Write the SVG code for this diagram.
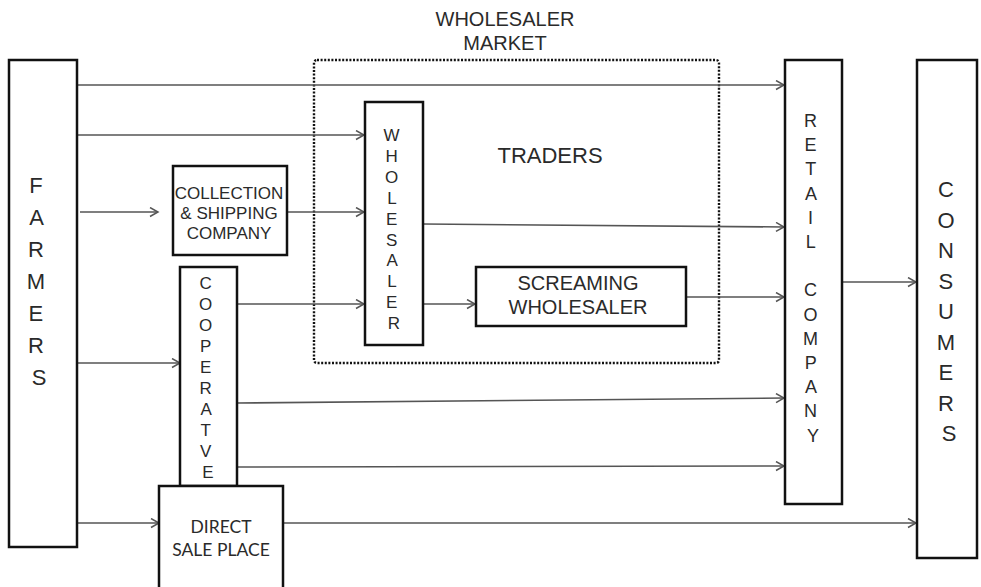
<svg xmlns="http://www.w3.org/2000/svg" width="981" height="587" viewBox="0 0 981 587">
  <defs>
    <marker id="arrow" markerUnits="userSpaceOnUse" markerWidth="12" markerHeight="12" refX="9" refY="5" orient="auto">
      <path d="M1,0.5 L9,5 L1,9.5" fill="none" stroke="#555" stroke-width="1.5"/>
    </marker>
  </defs>
  <style>
    .box { fill: #fff; stroke: #111; stroke-width: 2.5; }
    .market { fill: none; stroke: #111; stroke-width: 2.4; stroke-dasharray: 2 1.6; }
    .flow { fill: none; stroke: #555; stroke-width: 1.6; }
    .arr { marker-end: url(#arrow); }
    text { font-family: "Liberation Sans", Arial, sans-serif; fill: #2a2a2a; text-anchor: middle; }
    .big { font-size: 22px; }
    .mid { font-size: 20px; }
    .vert { font-size: 17px; }
    .small { font-size: 17px; }
    .calibri { font-family: Lato, "Liberation Sans", sans-serif; font-size: 17.5px; }
  </style>

  <!-- market boundary and its labels -->
  <g id="wholesaler-market">
    <rect class="market" x="314" y="60" width="405" height="303" rx="3"/>
    <text class="mid" x="505" y="26">WHOLESALER</text>
    <text class="mid" x="505" y="50">MARKET</text>
    <text x="550" y="163" style="font-size:22px">TRADERS</text>
  </g>

  <!-- connectors -->
  <g id="connectors">
    <line class="flow arr" x1="77" y1="85" x2="784" y2="85"/>
    <line class="flow arr" x1="77" y1="135" x2="364" y2="135"/>
    <line class="flow arr" x1="80" y1="212" x2="158" y2="212"/>
    <line class="flow arr" x1="287" y1="212" x2="364" y2="212"/>
    <line class="flow arr" x1="423" y1="224" x2="784" y2="227"/>
    <line class="flow arr" x1="237" y1="304" x2="364" y2="304"/>
    <line class="flow arr" x1="423" y1="304" x2="475" y2="304"/>
    <line class="flow arr" x1="686" y1="297" x2="784" y2="297"/>
    <line class="flow arr" x1="77" y1="363" x2="180" y2="363"/>
    <line class="flow arr" x1="237" y1="403" x2="784" y2="398"/>
    <line class="flow arr" x1="237" y1="467" x2="784" y2="466"/>
    <line class="flow arr" x1="77" y1="523" x2="159" y2="523"/>
    <line class="flow arr" x1="283" y1="523" x2="916" y2="523"/>
    <line class="flow arr" x1="842" y1="282" x2="916" y2="282"/>
  </g>

  <g id="farmers">
    <rect class="box" x="9" y="60" width="68" height="487"/>
    <text class="big">
      <tspan x="39" y="193">F</tspan>
      <tspan x="39" dy="32">A</tspan>
      <tspan x="39" dy="32">R</tspan>
      <tspan x="39" dy="32">M</tspan>
      <tspan x="39" dy="32">E</tspan>
      <tspan x="39" dy="32">R</tspan>
      <tspan x="39" dy="32">S</tspan>
    </text>
  </g>

  <g id="collection-shipping">
    <rect class="box" x="173" y="166" width="114" height="89"/>
    <text class="small" x="229" y="199">COLLECTION</text>
    <text class="small" x="229" y="219">&amp; SHIPPING</text>
    <text class="small" x="229" y="239">COMPANY</text>
  </g>

  <g id="cooperative">
    <rect class="box" x="180" y="267" width="57" height="219"/>
    <text class="vert">
      <tspan x="208" y="289">C</tspan>
      <tspan x="208" dy="21">O</tspan>
      <tspan x="208" dy="21">O</tspan>
      <tspan x="208" dy="21">P</tspan>
      <tspan x="208" dy="21">E</tspan>
      <tspan x="208" dy="21">R</tspan>
      <tspan x="208" dy="21">A</tspan>
      <tspan x="208" dy="21">T</tspan>
      <tspan x="208" dy="21">V</tspan>
      <tspan x="208" dy="21">E</tspan>
    </text>
  </g>

  <g id="direct-sale-place">
    <rect class="box" x="159" y="486" width="124" height="120"/>
    <text class="calibri" x="221" y="533">DIRECT</text>
    <text class="calibri" x="221" y="556">SALE PLACE</text>
  </g>

  <g id="wholesaler">
    <rect class="box" x="365" y="102" width="58" height="243"/>
    <text class="vert">
      <tspan x="394" y="141">W</tspan>
      <tspan x="394" dy="20.9">H</tspan>
      <tspan x="394" dy="20.9">O</tspan>
      <tspan x="394" dy="20.9">L</tspan>
      <tspan x="394" dy="20.9">E</tspan>
      <tspan x="394" dy="20.9">S</tspan>
      <tspan x="394" dy="20.9">A</tspan>
      <tspan x="394" dy="20.9">L</tspan>
      <tspan x="394" dy="20.9">E</tspan>
      <tspan x="394" dy="20.9">R</tspan>
    </text>
  </g>

  <g id="screaming-wholesaler">
    <rect class="box" x="476" y="267" width="210" height="59"/>
    <text class="mid" x="578" y="290">SCREAMING</text>
    <text class="mid" x="578" y="314">WHOLESALER</text>
  </g>

  <g id="retail-company">
    <rect class="box" x="785" y="60" width="57" height="444"/>
    <text class="vert" style="font-size:18px">
      <tspan x="813" y="127">R</tspan>
      <tspan x="813" dy="24.2">E</tspan>
      <tspan x="813" dy="24.2">T</tspan>
      <tspan x="813" dy="24.2">A</tspan>
      <tspan x="813" dy="24.2">I</tspan>
      <tspan x="813" dy="24.2">L</tspan>
      <tspan x="813" dy="48.4">C</tspan>
      <tspan x="813" dy="24.2">O</tspan>
      <tspan x="813" dy="24.2">M</tspan>
      <tspan x="813" dy="24.2">P</tspan>
      <tspan x="813" dy="24.2">A</tspan>
      <tspan x="813" dy="24.2">N</tspan>
      <tspan x="813" dy="24.2">Y</tspan>
    </text>
  </g>

  <g id="consumers">
    <rect class="box" x="917" y="60" width="60" height="498"/>
    <text class="big">
      <tspan x="949" y="197">C</tspan>
      <tspan x="949" dy="30.5">O</tspan>
      <tspan x="949" dy="30.5">N</tspan>
      <tspan x="949" dy="30.5">S</tspan>
      <tspan x="949" dy="30.5">U</tspan>
      <tspan x="949" dy="30.5">M</tspan>
      <tspan x="949" dy="30.5">E</tspan>
      <tspan x="949" dy="30.5">R</tspan>
      <tspan x="949" dy="30.5">S</tspan>
    </text>
  </g>
</svg>
